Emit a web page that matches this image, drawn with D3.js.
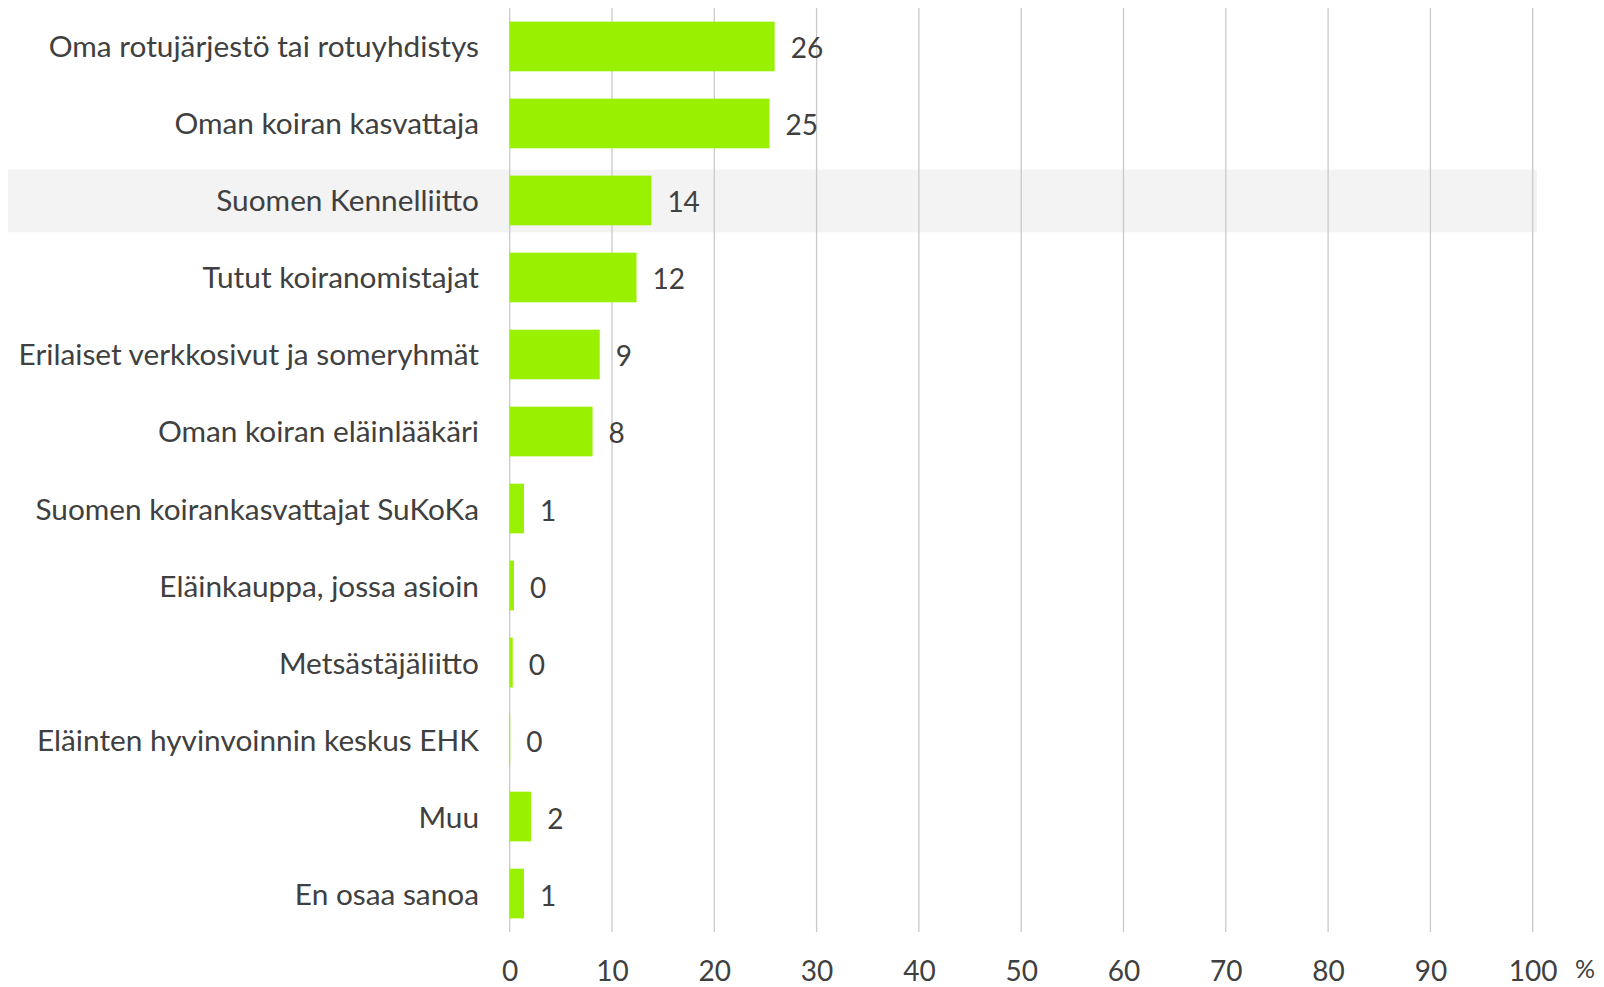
<!DOCTYPE html>
<html><head><meta charset="utf-8">
<script src="https://cdn.jsdelivr.net/npm/d3@7"></script>
<style>body{margin:0;background:#fff;} text{font-family:Lato, "Open Sans", sans-serif;fill:#404040;}</style>
</head><body><svg id="c" width="1604" height="987"></svg>
<script>
const categories = ["Oma rotujärjestö tai rotuyhdistys","Oman koiran kasvattaja","Suomen Kennelliitto","Tutut koiranomistajat","Erilaiset verkkosivut ja someryhmät","Oman koiran eläinlääkäri","Suomen koirankasvattajat SuKoKa","Eläinkauppa, jossa asioin","Metsästäjäliitto","Eläinten hyvinvoinnin keskus EHK","Muu","En osaa sanoa"];
const values = [25.9, 25.4, 13.85, 12.4, 8.8, 8.1, 1.4, 0.42, 0.3, 0.05, 2.1, 1.4];
const valueLabels = ["26","25","14","12","9","8","1","0","0","0","2","1"];
const ticks = [0,10,20,30,40,50,60,70,80,90,100];
const highlighted = "Suomen Kennelliitto";

const svg = d3.select("#c");
const x = d3.scaleLinear().domain([0,100]).range([509.7,1532.7]);
const y = d3.scaleBand().domain(categories).range([8,932]).paddingInner(0.355).paddingOuter(0.177);

// highlight row
svg.append("rect").attr("x",8).attr("width",1537-8)
  .attr("y", y(highlighted) - y.bandwidth()*0.12).attr("height", y.bandwidth()*1.26)
  .attr("fill","#f3f3f3");

// gridlines
svg.append("g").selectAll("line").data(ticks).join("line")
  .attr("x1",d=>x(d)).attr("x2",d=>x(d)).attr("y1",8).attr("y2",932)
  .attr("stroke","#c9c9c9").attr("stroke-width",1.3);

// bars
svg.append("g").selectAll("rect").data(categories).join("rect")
  .attr("x",x(0)).attr("y",d=>y(d)).attr("height",y.bandwidth())
  .attr("width",(d,i)=>x(values[i])-x(0)).attr("fill","#99f000");

// value labels
svg.append("g").selectAll("text").data(categories).join("text")
  .attr("x",(d,i)=>x(values[i])+16).attr("y",d=>y(d)+y.bandwidth()/2+12)
  .attr("font-size",28).text((d,i)=>valueLabels[i]);

// category labels
svg.append("g").selectAll("text").data(categories).join("text")
  .attr("x",479).attr("y",d=>y(d)+y.bandwidth()/2+11).attr("text-anchor","end")
  .attr("font-size",29.8).text(d=>d);

// x axis tick labels
const xa = d3.axisBottom(x).tickValues(ticks).tickSize(0).tickPadding(0);
const g = svg.append("g").attr("transform","translate(0,981)").call(xa);
g.select(".domain").remove();
g.selectAll("text").attr("font-size",28).attr("dy",0).attr("y",0)
  .style("font-family","Lato, 'Open Sans', sans-serif").attr("fill","#404040");
svg.append("text").attr("x",1585).attr("y",978).attr("text-anchor","middle").attr("font-size",25).text("%");
</script></body></html>
